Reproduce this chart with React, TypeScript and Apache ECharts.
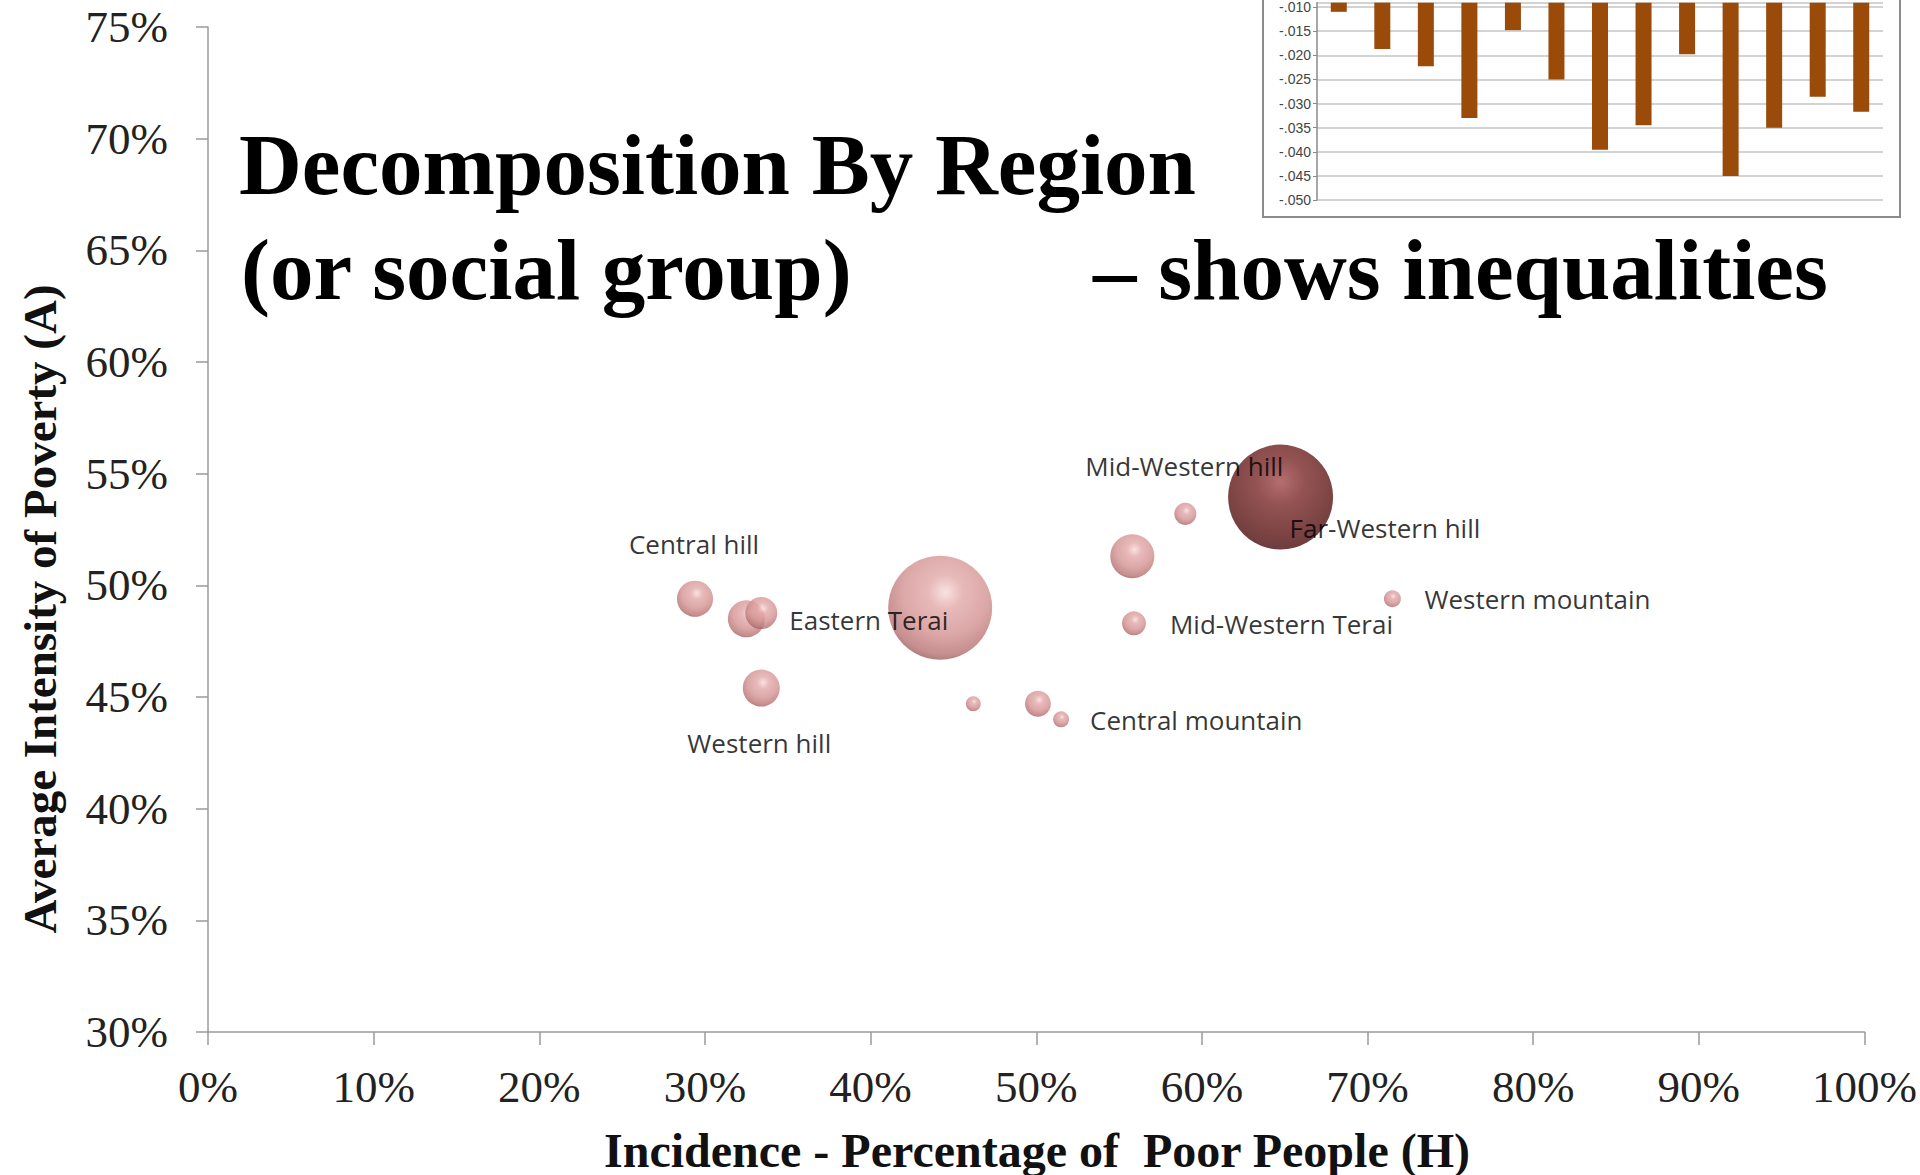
import React, { useEffect, useRef } from 'react';
import * as echarts from 'echarts';

// ---- Main bubble chart data ----
const regions = [
  'Central Terai',
  'Far-Western hill',
  'Far-Western Terai',
  'Central hill',
  'Eastern hill',
  'Eastern Terai',
  'Western hill',
  'Western Terai',
  'Mid-Western Terai',
  'Mid-Western hill',
  'Western mountain',
  'Central mountain',
  'Eastern mountain',
];
const incidenceH = [44.2, 64.75, 55.8, 29.4, 32.5, 33.4, 33.4, 50.1, 55.9, 59.0, 71.5, 51.5, 46.2];
const intensityA = [49.0, 53.95, 51.3, 49.4, 48.5, 48.76, 45.4, 44.7, 48.3, 53.2, 49.4, 44.0, 44.7];
const bubbleSize = [98.1, 100, 17.6, 11.8, 12.4, 9.3, 12.4, 6.1, 5.2, 4.4, 2.6, 2.3, 2.0];
const highlightedRegion = 'Far-Western hill';

const xTickValues = [0, 10, 20, 30, 40, 50, 60, 70, 80, 90, 100];
const yTickValues = [30, 35, 40, 45, 50, 55, 60, 65, 70, 75];

// ---- Inset bar chart data (only its lower part is visible) ----
const insetCategories = ['1', '2', '3', '4', '5', '6', '7', '8', '9', '10', '11', '12', '13'];
const insetValues = [-0.011, -0.0187, -0.0223, -0.033, -0.0148, -0.025, -0.0396, -0.0345, -0.0198, -0.045, -0.035, -0.0286, -0.0317];
const insetAxisMin = -0.05;
const insetVisibleTop = -0.0091;

// ---- Text ----
const titleLine1 = 'Decomposition By Region';
const titleLine2a = '(or social group)';
const titleLine2b = '\u2013 shows inequalities';
const xAxisTitle = 'Incidence - Percentage of  Poor People (H)';
const yAxisTitle = 'Average Intensity of Poverty (A)';

// label placement (px offsets from bubble centre)
const labelPlacement: Record<string, { dx: number; dy: number; align: string }> = {
  'Central hill': { dx: -1, dy: -55, align: 'center' },
  'Western hill': { dx: -2, dy: 55, align: 'center' },
  'Eastern Terai': { dx: 28, dy: 7, align: 'left' },
  'Mid-Western hill': { dx: -1, dy: -48, align: 'center' },
  'Far-Western hill': { dx: 9, dy: 31, align: 'left' },
  'Western mountain': { dx: 32, dy: 0, align: 'left' },
  'Mid-Western Terai': { dx: 36, dy: 1, align: 'left' },
  'Central mountain': { dx: 29, dy: 1, align: 'left' },
};

const pinkGradient = () =>
  new echarts.graphic.RadialGradient(0.55, 0.35, 0.75, [
    { offset: 0, color: '#f7dada' },
    { offset: 0.22, color: '#e2a8a8' },
    { offset: 0.55, color: '#d39191' },
    { offset: 0.8, color: '#b87272' },
    { offset: 1, color: '#6e3c3c' },
  ]);
const darkGradient = () =>
  new echarts.graphic.RadialGradient(0.5, 0.35, 0.75, [
    { offset: 0, color: '#a24a4a' },
    { offset: 0.3, color: '#7a2828' },
    { offset: 0.65, color: '#5e1616' },
    { offset: 0.85, color: '#4a0d0d' },
    { offset: 1, color: '#2a0404' },
  ]);

export default function App() {
  const ref = useRef<HTMLDivElement>(null);

  useEffect(() => {
    if (!ref.current) return;
    const chart = echarts.init(ref.current, null, { renderer: 'svg' });

    const maxSize = Math.max(...bubbleSize);
    const bubbleData = regions.map((name, i) => {
      const lp = labelPlacement[name];
      return {
        name,
        value: [incidenceH[i], intensityA[i], bubbleSize[i]],
        symbolSize: 105 * Math.sqrt(bubbleSize[i] / maxSize),
        itemStyle: { color: name === highlightedRegion ? darkGradient() : pinkGradient() },
        label: lp
          ? {
              show: true,
              position: 'inside',
              offset: [lp.dx, lp.dy],
              align: lp.align,
              verticalAlign: 'middle',
              formatter: '{b}',
              fontFamily: 'Open Sans',
              fontSize: 26,
              color: '#000',
            }
          : { show: false },
      };
    });

    const serif = 'Liberation Serif';

    const option: any = {
      animation: false,
      backgroundColor: '#ffffff',
      grid: [
        { left: 208, top: 27, width: 1657, height: 1005 },
        { left: 1317, top: 0, width: 566, height: 200 },
      ],
      xAxis: [
        {
          type: 'value',
          gridIndex: 0,
          min: xTickValues[0],
          max: xTickValues[xTickValues.length - 1],
          interval: 10,
          axisLine: { show: true, lineStyle: { color: '#9a9a9a', width: 1.5 } },
          axisTick: { show: true, length: 13, lineStyle: { color: '#9a9a9a', width: 1.5 } },
          splitLine: { show: false },
          axisLabel: {
            margin: 32,
            formatter: (v: number) => `${v}%`,
            fontFamily: serif,
            fontSize: 45,
            color: '#222',
          },
        },
        {
          type: 'category',
          gridIndex: 1,
          data: insetCategories,
          axisLine: { show: false },
          axisTick: { show: false },
          axisLabel: { show: false },
        },
      ],
      yAxis: [
        {
          type: 'value',
          gridIndex: 0,
          min: yTickValues[0],
          max: yTickValues[yTickValues.length - 1],
          interval: 5,
          axisLine: { show: true, lineStyle: { color: '#9a9a9a', width: 1.5 } },
          axisTick: { show: true, length: 12, lineStyle: { color: '#9a9a9a', width: 1.5 } },
          splitLine: { show: false },
          axisLabel: {
            margin: 40,
            formatter: (v: number) => `${v}%`,
            fontFamily: serif,
            fontSize: 45,
            color: '#222',
          },
        },
        {
          type: 'value',
          gridIndex: 1,
          min: insetAxisMin,
          max: insetVisibleTop,
          interval: 0.005,
          axisLine: { show: true, lineStyle: { color: '#8a8a8a', width: 1.5 } },
          axisTick: { show: true, length: 4, lineStyle: { color: '#8a8a8a' } },
          splitLine: { show: true, lineStyle: { color: '#c4c4c4', width: 1.5 } },
          axisLabel: {
            margin: 6,
            showMaxLabel: false,
            formatter: (v: number) =>
              v === 0 ? '.000' : '-' + Math.abs(v).toFixed(3).slice(1),
            fontFamily: 'Liberation Sans',
            fontSize: 14,
            color: '#444',
          },
        },
      ],
      graphic: [
        {
          type: 'rect',
          z: -10,
          shape: { x: 1263, y: -20, width: 637, height: 237 },
          style: { fill: '#ffffff', stroke: '#8c8c8c', lineWidth: 2 },
        },
        {
          type: 'text',
          x: 239,
          y: 164,
          style: {
            text: titleLine1,
            font: `bold 87px "${serif}"`,
            fill: '#000',
            textAlign: 'left',
            textVerticalAlign: 'middle',
          },
        },
        {
          type: 'text',
          x: 241,
          y: 269,
          style: {
            text: titleLine2a,
            font: `bold 87px "${serif}"`,
            fill: '#000',
            textAlign: 'left',
            textVerticalAlign: 'middle',
          },
        },
        {
          type: 'text',
          x: 1093,
          y: 269,
          style: {
            text: titleLine2b,
            font: `bold 87px "${serif}"`,
            fill: '#000',
            textAlign: 'left',
            textVerticalAlign: 'middle',
          },
        },
        {
          type: 'text',
          x: 1037,
          y: 1150,
          style: {
            text: xAxisTitle,
            font: `bold 48px "${serif}"`,
            fill: '#111',
            textAlign: 'center',
            textVerticalAlign: 'middle',
          },
        },
        {
          type: 'text',
          x: 40,
          y: 609,
          rotation: Math.PI / 2,
          style: {
            text: yAxisTitle,
            font: `bold 47px "${serif}"`,
            fill: '#111',
            textAlign: 'center',
            textVerticalAlign: 'middle',
          },
        },
      ],
      series: [
        {
          type: 'scatter',
          xAxisIndex: 0,
          yAxisIndex: 0,
          symbol: 'circle',
          data: bubbleData,
        },
        {
          type: 'bar',
          xAxisIndex: 1,
          yAxisIndex: 1,
          barWidth: 16,
          data: insetValues,
          itemStyle: { color: '#9a4a09' },
        },
      ],
    };

    chart.setOption(option);
    return () => chart.dispose();
  }, []);

  return (
    <div
      ref={ref}
      style={{ position: 'fixed', left: 0, top: 0, width: 1920, height: 1175, background: '#fff' }}
    />
  );
}
